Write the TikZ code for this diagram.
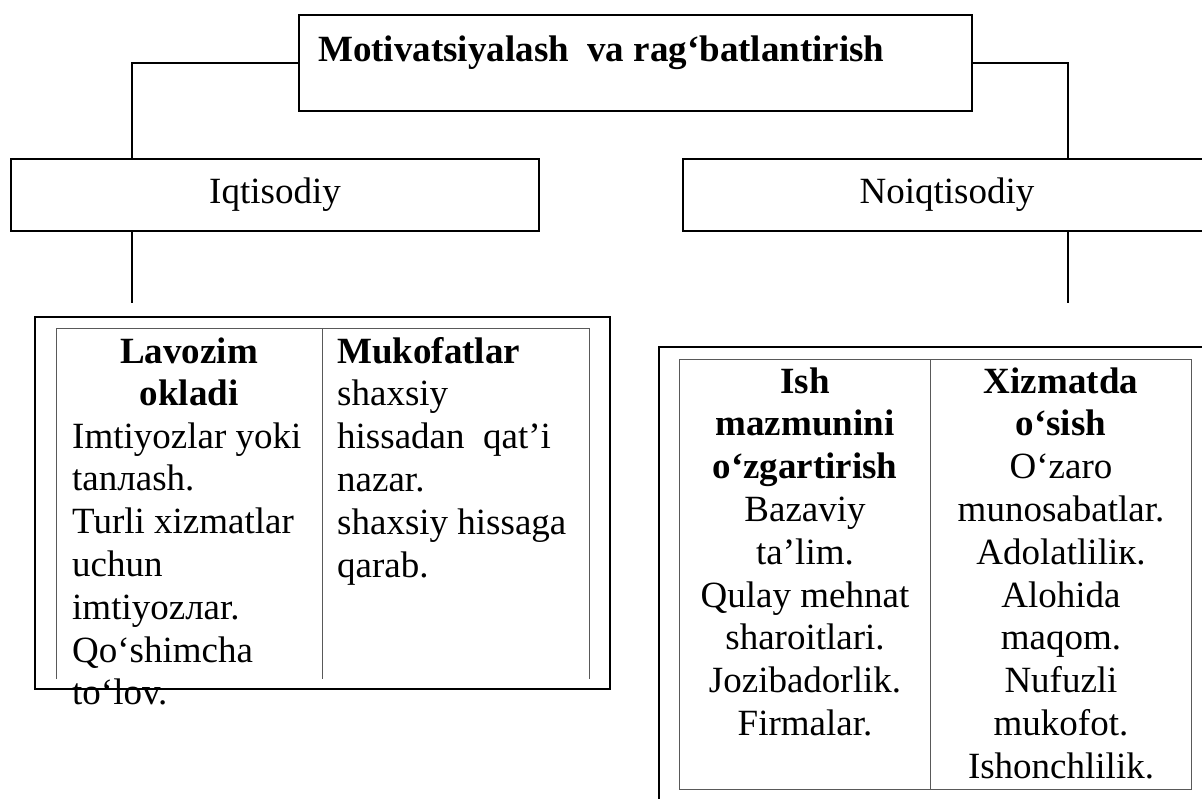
\documentclass[tikz,border=0pt]{standalone}
\usepackage{fontspec}
\setmainfont{Liberation Serif}

\begin{document}
\begin{tikzpicture}[x=1pt, y=-1pt, box/.style = {draw, line width=1.6pt, inner sep=0pt}, link/.style = {line width=1.2pt}, rule/.style = {draw=black!65, line width=1pt}, txt/.style = {font=\fontsize{37}{42.8}\selectfont, inner sep=0pt}]
		\useasboundingbox (0, 0) rectangle (1202, 798);

		% top level and the two branches
		\node [box, minimum width=673, minimum height=96] (top) at (635.5, 63) {};
		\node [txt, anchor=base west] (title) at (318, 61) {\textbf{Motivatsiyalash\ \ va rag‘batlantirish}};
		\node [box, txt, minimum width=528, minimum height=72] (iq) at (275, 195) {Iqtisodiy};
		\node [box, txt, minimum width=528, minimum height=72] (nq) at (947, 195) {Noiqtisodiy};

		\coordinate (lt) at (132, 303);
		\coordinate (rt) at (1068, 303);
		\draw [link] (top.west) -| (iq.north -| lt);
		\draw [link] (top.east) -| (nq.north -| rt);
		\draw [link] (iq.south -| lt) -- (lt);
		\draw [link] (nq.south -| rt) -- (rt);

		% left table (base anchor = last line)
		\draw [box] (35, 317) rectangle (610, 689);
		\draw [rule] (56, 679) -- (56, 328) -- (589, 328) -- (589, 679);
		\draw [rule] (322, 328) -- (322, 679);
		\node [txt, align=center, anchor=base] (lav) at (189, 405.8) {\textbf{Lavozim}\\\textbf{okladi}};
		\node [txt, align=left, anchor=base west] (lavtxt) at (72, 704.8) {Imtiyozlar yoki\\tanлash.\\Turli xizmatlar\\uchun\\imtiyozлar.\\Qo‘shimcha\\to‘lov.};
		\node [txt, align=left, anchor=base west] (muk) at (337, 577) {\textbf{Mukofatlar}\\shaxsiy\\hissadan\ \ qat’i\\nazar.\\shaxsiy hissaga\\qarab.};

		% right table
		\draw [box] (659, 347) rectangle (1230, 820);
		\draw [rule] (679, 359) rectangle (1191, 789);
		\draw [rule] (930, 359) -- (930, 789);
		\node [txt, align=center, anchor=base] (ish) at (805, 735.4) {\textbf{Ish}\\\textbf{mazmunini}\\\textbf{o‘zgartirish}\\Bazaviy\\ta’lim.\\Qulay mehnat\\sharoitlari.\\Jozibadorlik.\\Firmalar.};
		\node [txt, align=center, anchor=base] (xiz) at (1061, 778.2) {\textbf{Xizmatda}\\\textbf{o‘sish}\\O‘zaro\\munosabatlar.\\Adolatliliк.\\Alohida\\maqom.\\Nufuzli\\mukofot.\\Ishonchlilik.};
\end{tikzpicture}
\end{document}
